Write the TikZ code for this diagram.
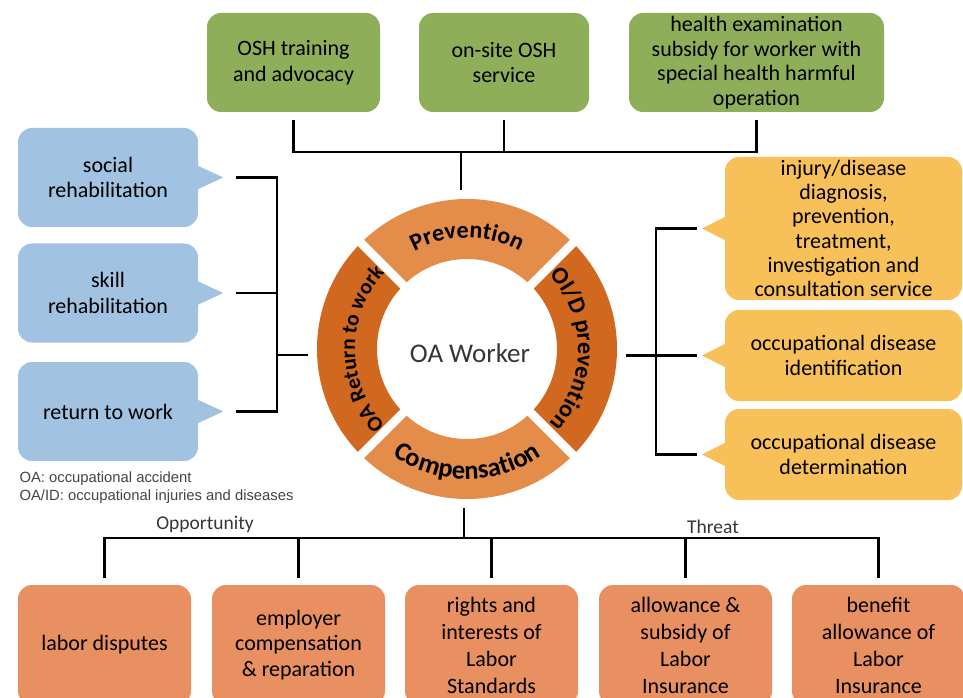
\documentclass[tikz,border=0pt]{standalone}
\usepackage{fontspec}
\setmainfont{Carlito}
\newfontfamily\notefont{Liberation Sans}
\usetikzlibrary{decorations.text,calc}
\definecolor{cgreen}{HTML}{8FAE59}
\definecolor{cblue}{HTML}{A1C2E1}
\definecolor{cyellow}{HTML}{F8C058}
\definecolor{corange}{HTML}{E89061}
\definecolor{ringlight}{HTML}{E48D4B}
\definecolor{ringdark}{HTML}{D1681F}
\definecolor{notegray}{HTML}{444444}
\newcommand{\ringfont}{\bfseries\fontsize{24}{24}\selectfont}
\newcommand{\ringfontS}{\bfseries\fontsize{21.5}{22}\selectfont}
\newcommand{\ringfontL}{\bfseries\fontsize{26.5}{27}\selectfont}
\tikzset{
  box/.style={rounded corners=14pt, align=center, inner sep=0pt, text=black,
    font=\fontsize{22}{25.5}\selectfont},
  gbox/.style={box, fill=cgreen, minimum height=99pt},
  bbox/.style={box, fill=cblue, minimum width=180pt, minimum height=99pt},
  ybox/.style={box, fill=cyellow, minimum width=237pt},
  obox/.style={box, fill=corange, minimum width=173pt, minimum height=120pt},
  link/.style={draw=black, line width=2.4pt},
  ringtext/.style 2 args={decorate, decoration={text along path, text align=center, text={|#1|#2}}},
}
\begin{document}
\begin{tikzpicture}[x=1pt,y=1pt]
\clip (0,0) rectangle (963,697);
\fill[white] (0,0) rectangle (963,697);

% ---- top green boxes
\node[gbox, minimum width=173pt] (g1) at (293.5,634.5) {OSH training\\and advocacy};
\node[gbox, minimum width=170pt] (g2) at (504,634.5) {on-site OSH\\service};
\node[gbox, minimum width=255pt, font=\fontsize{22}{24.7}\selectfont] (g3) at (756.5,634.5)
  {health examination\\subsidy for worker with\\special health harmful\\operation};

% ---- centre ring
\coordinate (c) at (467,348);
\node[circle, minimum size=300pt, outer sep=9pt, inner sep=0pt] (worker) at (c) {};
\fill[ringlight] ($(c)+(45:150)$) arc[start angle=45,end angle=135,radius=150]
  -- ($(c)+(135:90)$) arc[start angle=135,end angle=45,radius=90] -- cycle;
\fill[ringlight] ($(c)+(225:150)$) arc[start angle=225,end angle=315,radius=150]
  -- ($(c)+(315:90)$) arc[start angle=315,end angle=225,radius=90] -- cycle;
\fill[ringdark] ($(c)+(-45:150)$) arc[start angle=-45,end angle=45,radius=150]
  -- ($(c)+(45:90)$) arc[start angle=45,end angle=-45,radius=90] -- cycle;
\fill[ringdark] ($(c)+(135:150)$) arc[start angle=135,end angle=225,radius=150]
  -- ($(c)+(225:90)$) arc[start angle=225,end angle=135,radius=90] -- cycle;
\foreach \a in {45,135,225,315}
  \draw[white, line width=8.5pt] ($(c)+(\a:84)$) -- ($(c)+(\a:156)$);
\path[ringtext={\ringfont}{Prevention}] ($(c)+(145:111)$) arc[start angle=145,end angle=35,radius=111];
\path[ringtext={\ringfontL}{Compensation}] ($(c)+(205:130)$) arc[start angle=205,end angle=335,radius=130];
\path[ringtext={\ringfont}{OI/D prevention}] ($(c)+(57:111)$) arc[start angle=57,end angle=-57,radius=111];
\path[ringtext={\ringfontS}{OA Return to work}] ($(c)+(237:112)$) arc[start angle=237,end angle=123,radius=112];
\node[text=notegray!80!black, font=\fontsize{27}{30}\selectfont] (wlabel) at (470,344) {OA Worker};

% ---- top connectors
\coordinate (tj) at (461,545);
\draw[link] ([yshift=-8pt]g1.south) |- ([yshift=-40pt]g3.south) -- ([yshift=-8pt]g3.south);
\draw[link] ([yshift=-8pt]g2.south) -- ([yshift=-40pt]g2.south);
\draw[link] (tj) -- (tj |- worker.north);

% ---- left blue callouts
\node[bbox] (b1) at (108,519.5) {social\\rehabilitation};
\node[bbox] (b2) at (108,404) {skill\\rehabilitation};
\node[bbox] (b3) at (108,285.5) {return to work};
\foreach \b in {b1,b2,b3}
  \fill[cblue] ([xshift=-2pt,yshift=12.5pt]\b.east) -- ([xshift=25pt]\b.east)
    -- ([xshift=-2pt,yshift=-12.5pt]\b.east) -- cycle;
\coordinate (lj) at (277,342);
\draw[link] ([xshift=38pt]b1.east) -| ([xshift=79pt]b3.east) -- ([xshift=38pt]b3.east);
\draw[link] ([xshift=38pt]b2.east) -- ([xshift=79pt]b2.east);
\draw[link] (lj) -- (lj -| worker.west);

% ---- right yellow callouts
\node[ybox, minimum height=143pt, font=\fontsize{22}{24.2}\selectfont] (y1) at (843.5,468.5)
  {injury/disease\\diagnosis,\\prevention,\\treatment,\\investigation and\\consultation service};
\node[ybox, minimum height=91pt] (y2) at (843.5,341.5) {occupational disease\\identification};
\node[ybox, minimum height=91pt] (y3) at (843.5,242.5) {occupational disease\\determination};
\foreach \b in {y1,y2,y3}
  \fill[cyellow] ([xshift=2pt,yshift=12.5pt]\b.west) -- ([xshift=-23pt]\b.west)
    -- ([xshift=2pt,yshift=-12.5pt]\b.west) -- cycle;
\coordinate (rj) at (656,341.5);
\draw[link] ([xshift=-28pt]y1.west) -| ([xshift=-69pt]y3.west) -- ([xshift=-28pt]y3.west);
\draw[link] ([xshift=-28pt]y2.west) -- (rj);
\draw[link] (rj) -- (rj -| worker.east);

% ---- notes
\node[anchor=west, text=notegray, font=\notefont\fontsize{14.8}{16}\selectfont] (n1) at (16,218) {OA: occupational accident};
\node[anchor=west, text=notegray, font=\notefont\fontsize{14.8}{16}\selectfont] (n2) at (16,200) {OA/ID: occupational injuries and diseases};
\node[text=notegray!80!black, font=\fontsize{19.5}{22}\selectfont] (opp) at (205,173) {Opportunity};
\node[text=notegray!80!black, font=\fontsize{19.5}{22}\selectfont] (thr) at (713,170) {Threat};

% ---- bottom boxes
\node[obox] (o1) at (104.5,52) {labor disputes};
\node[obox] (o2) at (298.5,52) {employer\\compensation\\\& reparation};
\node[obox, font=\fontsize{22}{27}\selectfont] (o3) at (491.5,52) {rights and\\interests of\\Labor\\Standards};
\node[obox, font=\fontsize{22}{27}\selectfont] (o4) at (685.5,52) {allowance \&\\subsidy of\\Labor\\Insurance};
\node[obox, font=\fontsize{22}{27}\selectfont] (o5) at (878.5,52) {benefit\\allowance of\\Labor\\Insurance};
\coordinate (bj) at (464,159);
\draw[link] (bj |- worker.south) -- (bj);
\draw[link] ([yshift=7pt]o1.north) |- ([yshift=47pt]o5.north) -- ([yshift=7pt]o5.north);
\foreach \b in {o2,o3,o4}
  \draw[link] ([yshift=7pt]\b.north) -- ([yshift=47pt]\b.north);
\end{tikzpicture}
\end{document}
